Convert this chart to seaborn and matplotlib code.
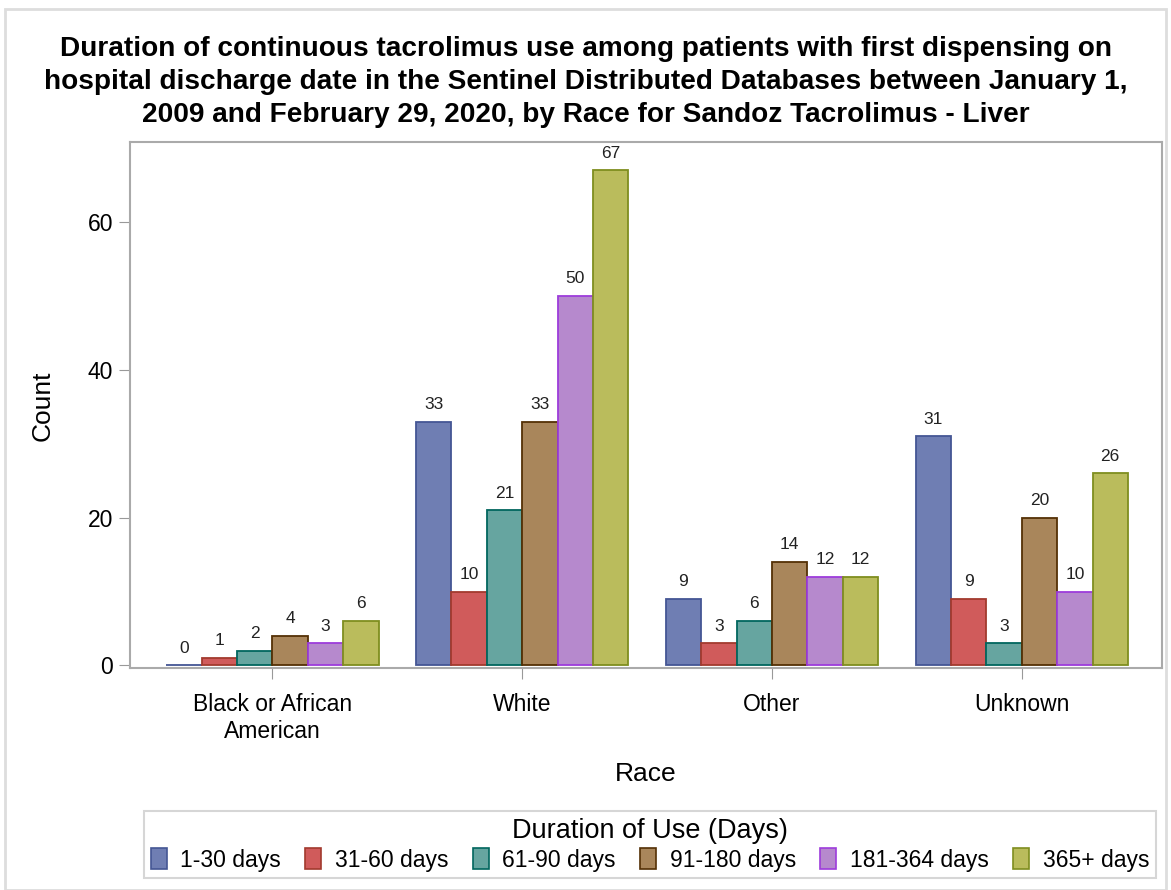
import pandas as pd
import seaborn as sns
import matplotlib.pyplot as plt
from matplotlib.patches import Rectangle

races = ["Black or African\nAmerican", "White", "Other", "Unknown"]
durations = ["1-30 days", "31-60 days", "61-90 days", "91-180 days", "181-364 days", "365+ days"]
counts = {
    "1-30 days": [0, 33, 9, 31],
    "31-60 days": [1, 10, 3, 9],
    "61-90 days": [2, 21, 6, 3],
    "91-180 days": [4, 33, 14, 20],
    "181-364 days": [3, 50, 12, 10],
    "365+ days": [6, 67, 12, 26],
}
fills = ["#6F7EB3", "#D05B5B", "#66A5A0", "#A9865B", "#B689CD", "#BABC5C"]
edges = ["#445694", "#A23A2E", "#01665E", "#543005", "#9D3CDB", "#7F8E1F"]

rows = []
for d in durations:
    for r, v in zip(races, counts[d]):
        rows.append({"Race": r, "Duration": d, "Count": v})
df = pd.DataFrame(rows)

sns.set_style("white")
plt.rcParams["font.family"] = ["Liberation Sans", "DejaVu Sans"]
plt.rcParams["text.color"] = "black"
plt.rcParams["axes.labelcolor"] = "black"
plt.rcParams["xtick.color"] = "black"
plt.rcParams["ytick.color"] = "black"

fig = plt.figure(figsize=(11.71, 8.90), dpi=100)
ax = fig.add_axes([0.111, 0.249, 0.881, 0.591])

sns.barplot(data=df, x="Race", y="Count", hue="Duration", order=races,
            hue_order=durations, palette=fills, width=0.85, saturation=1,
            linewidth=1.3, legend=False, ax=ax)

# outline colours per series
for cont, ec in zip(ax.containers, edges):
    for bar in cont:
        bar.set_edgecolor(ec)
    ax.bar_label(cont, padding=7, fontsize=12.5, color="#222222")

ax.set_xlim(-0.57, 3.56)
ax.set_ylim(-0.4, 70.8)
ax.set_yticks([0, 20, 40, 60])
ax.tick_params(axis="both", labelsize=16.5, length=8, color="#999999",
               left=True, bottom=True, pad=4)
ax.tick_params(axis="x", pad=10)
for s in ax.spines.values():
    s.set_color("#AAAAAA")
    s.set_linewidth(1.5)
ax.set_xlabel("Race", fontsize=19, labelpad=14)
ax.set_ylabel("Count", fontsize=19, labelpad=24)

fig.text(0.5, 0.96,
         "Duration of continuous tacrolimus use among patients with first dispensing on\n"
         "hospital discharge date in the Sentinel Distributed Databases between January 1,\n"
         "2009 and February 29, 2020, by Race for Sandoz Tacrolimus - Liver",
         fontsize=20.2, fontweight="bold", ha="center", va="top", linespacing=1.36)

handles = [Rectangle((0, 0), 1, 1, facecolor=f, edgecolor=e, linewidth=1.2)
           for f, e in zip(fills, edges)]
leg = fig.legend(handles, durations, title="Duration of Use (Days)", ncol=6,
                 loc="lower center", bbox_to_anchor=(0.555, 0.013), fontsize=16.5,
                 title_fontsize=19.5, frameon=True, fancybox=False,
                 handlelength=0.7, handleheight=1.0, handletextpad=0.6,
                 columnspacing=1.05, borderpad=0.3, labelspacing=0.2,
                 borderaxespad=0)
leg.get_frame().set_edgecolor("#CCCCCC")
leg.get_frame().set_linewidth(1.5)

fig.patches.append(Rectangle((0.004, 0.0), 0.992, 0.99, transform=fig.transFigure,
                             fill=False, edgecolor="#DDDDDD", linewidth=2))

fig.savefig("out.png", dpi=100)
